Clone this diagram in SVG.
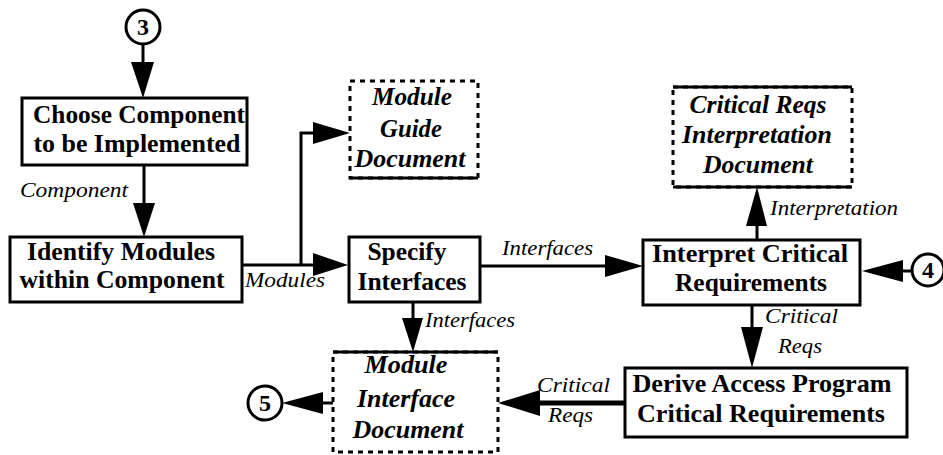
<svg xmlns="http://www.w3.org/2000/svg" width="943" height="455" viewBox="0 0 943 455" font-family="Liberation Serif, Times New Roman, serif">
<defs>
<style>
.box{fill:#fff;stroke:#000;stroke-width:3}
.doc{fill:#fff;stroke:#000;stroke-width:3;stroke-dasharray:5 5}
.dsolid{fill:none;stroke:#000;stroke-width:3}
.bt{font-family:"Liberation Serif",serif;font-weight:bold;font-size:25px;text-anchor:middle;fill:#000}
.dt{font-family:"Liberation Serif",serif;font-weight:bold;font-style:italic;font-size:25px;text-anchor:middle;fill:#000}
.lb{font-family:"Liberation Serif",serif;font-style:italic;font-size:21px;fill:#000}
.ln{fill:none;stroke:#000;stroke-width:3}
.ah{fill:#000}
.cc{fill:#fff;stroke:#000;stroke-width:3}
.ct{font-family:"Liberation Serif",serif;font-weight:bold;font-size:24px;text-anchor:middle;fill:#000}
</style>
</defs>
<g id="connectors">
<line class="ln" x1="143" y1="44" x2="143" y2="70"/>
<polygon class="ah" points="131,62 154,62 143,98"/>
<line class="ln" x1="144" y1="165" x2="144" y2="210"/>
<polygon class="ah" points="133,203 155,203 144,237"/>
<polyline class="ln" points="242,265 320,265"/>
<polygon class="ah" points="313,253 313,276 348,265"/>
<polyline class="ln" points="301,265 301,133 320,133"/>
<polygon class="ah" points="313,122 313,144 350,133"/>
<line class="ln" x1="480" y1="266" x2="612" y2="266"/>
<polygon class="ah" points="605,255 605,277 643,266"/>
<line class="ln" x1="413" y1="302" x2="413" y2="325"/>
<polygon class="ah" points="402,318 423,318 413,352"/>
<line class="ln" x1="757" y1="240" x2="757" y2="220"/>
<polygon class="ah" points="746,226 767,226 757,187"/>
<line class="ln" x1="912" y1="271" x2="895" y2="271"/>
<polygon class="ah" points="903,260 903,282 862,271"/>
<line class="ln" x1="752" y1="305" x2="752" y2="335"/>
<polygon class="ah" points="741,327 763,327 752,368"/>
<line x1="625" y1="403" x2="532" y2="403" stroke="#000" stroke-width="5"/>
<polygon class="ah" points="540,390 540,416 498,403"/>
<line class="ln" x1="333" y1="403" x2="315" y2="403"/>
<polygon class="ah" points="323,392 323,414 282,403"/>
<text class="lb" x="20" y="197" textLength="108" lengthAdjust="spacingAndGlyphs">Component</text>
<text class="lb" x="245" y="287" textLength="80" lengthAdjust="spacingAndGlyphs">Modules</text>
<text class="lb" x="502" y="255" textLength="91" lengthAdjust="spacingAndGlyphs">Interfaces</text>
<text class="lb" x="425" y="327" textLength="90" lengthAdjust="spacingAndGlyphs">Interfaces</text>
<text class="lb" x="770" y="215" textLength="128" lengthAdjust="spacingAndGlyphs">Interpretation</text>
<text class="lb" x="765" y="323" textLength="73" lengthAdjust="spacingAndGlyphs">Critical</text>
<text class="lb" x="778" y="353" textLength="44" lengthAdjust="spacingAndGlyphs">Reqs</text>
<text class="lb" x="537" y="392" textLength="73" lengthAdjust="spacingAndGlyphs">Critical</text>
<text class="lb" x="548" y="422" textLength="45" lengthAdjust="spacingAndGlyphs">Reqs</text>
</g>
<g id="c3">
<circle class="cc" cx="143" cy="27" r="17"/>
<text class="ct" x="143" y="35">3</text>
</g>
<g id="c4">
<circle class="cc" cx="928" cy="270" r="16"/>
<text class="ct" x="928" y="278">4</text>
</g>
<g id="c5">
<circle class="cc" cx="265" cy="403" r="17"/>
<text class="ct" x="265" y="411">5</text>
</g>
<g id="choose">
<rect class="box" x="22" y="98" width="225" height="67"/>
<text class="bt" x="139" y="123" textLength="212" lengthAdjust="spacingAndGlyphs">Choose Component</text>
<text class="bt" x="137" y="152" textLength="207" lengthAdjust="spacingAndGlyphs">to be Implemented</text>
</g>
<g id="identify">
<rect class="box" x="10" y="237" width="232" height="65"/>
<text class="bt" x="121" y="260" textLength="188" lengthAdjust="spacingAndGlyphs">Identify Modules</text>
<text class="bt" x="122" y="288" textLength="205" lengthAdjust="spacingAndGlyphs">within Component</text>
</g>
<g id="mgd">
<rect class="doc" x="350" y="81" width="128" height="97"/>
<line class="dsolid" x1="350" y1="178" x2="478" y2="178"/>
<text class="dt" x="412" y="105" textLength="80" lengthAdjust="spacingAndGlyphs">Module</text>
<text class="dt" x="411" y="137" textLength="62" lengthAdjust="spacingAndGlyphs">Guide</text>
<text class="dt" x="410" y="167" textLength="111" lengthAdjust="spacingAndGlyphs">Document</text>
</g>
<g id="specify">
<rect class="box" x="349" y="237" width="131" height="65"/>
<text class="bt" x="407" y="260" textLength="79" lengthAdjust="spacingAndGlyphs">Specify</text>
<text class="bt" x="412" y="290" textLength="109" lengthAdjust="spacingAndGlyphs">Interfaces</text>
</g>
<g id="mid">
<rect class="doc" x="333" y="352" width="165" height="100"/>
<line class="dsolid" x1="333" y1="352" x2="498" y2="352"/>
<text class="dt" x="406" y="373" textLength="83" lengthAdjust="spacingAndGlyphs">Module</text>
<text class="dt" x="406" y="407" textLength="98" lengthAdjust="spacingAndGlyphs">Interface</text>
<text class="dt" x="408" y="438" textLength="111" lengthAdjust="spacingAndGlyphs">Document</text>
</g>
<g id="crid">
<rect class="doc" x="673" y="87" width="179" height="100"/>
<line class="dsolid" x1="673" y1="87" x2="852" y2="87"/>
<line class="dsolid" x1="673" y1="187" x2="852" y2="187"/>
<text class="dt" x="758" y="113" textLength="137" lengthAdjust="spacingAndGlyphs">Critical Reqs</text>
<text class="dt" x="757" y="143" textLength="150" lengthAdjust="spacingAndGlyphs">Interpretation</text>
<text class="dt" x="758" y="173" textLength="110" lengthAdjust="spacingAndGlyphs">Document</text>
</g>
<g id="icr">
<rect class="box" x="643" y="240" width="217" height="65"/>
<text class="bt" x="750" y="262" textLength="196" lengthAdjust="spacingAndGlyphs">Interpret Critical</text>
<text class="bt" x="751" y="291" textLength="152" lengthAdjust="spacingAndGlyphs">Requirements</text>
</g>
<g id="dap">
<rect class="box" x="625" y="368" width="282" height="69"/>
<text class="bt" x="762" y="392" textLength="259" lengthAdjust="spacingAndGlyphs">Derive Access Program</text>
<text class="bt" x="761" y="422" textLength="248" lengthAdjust="spacingAndGlyphs">Critical Requirements</text>
</g>
</svg>
